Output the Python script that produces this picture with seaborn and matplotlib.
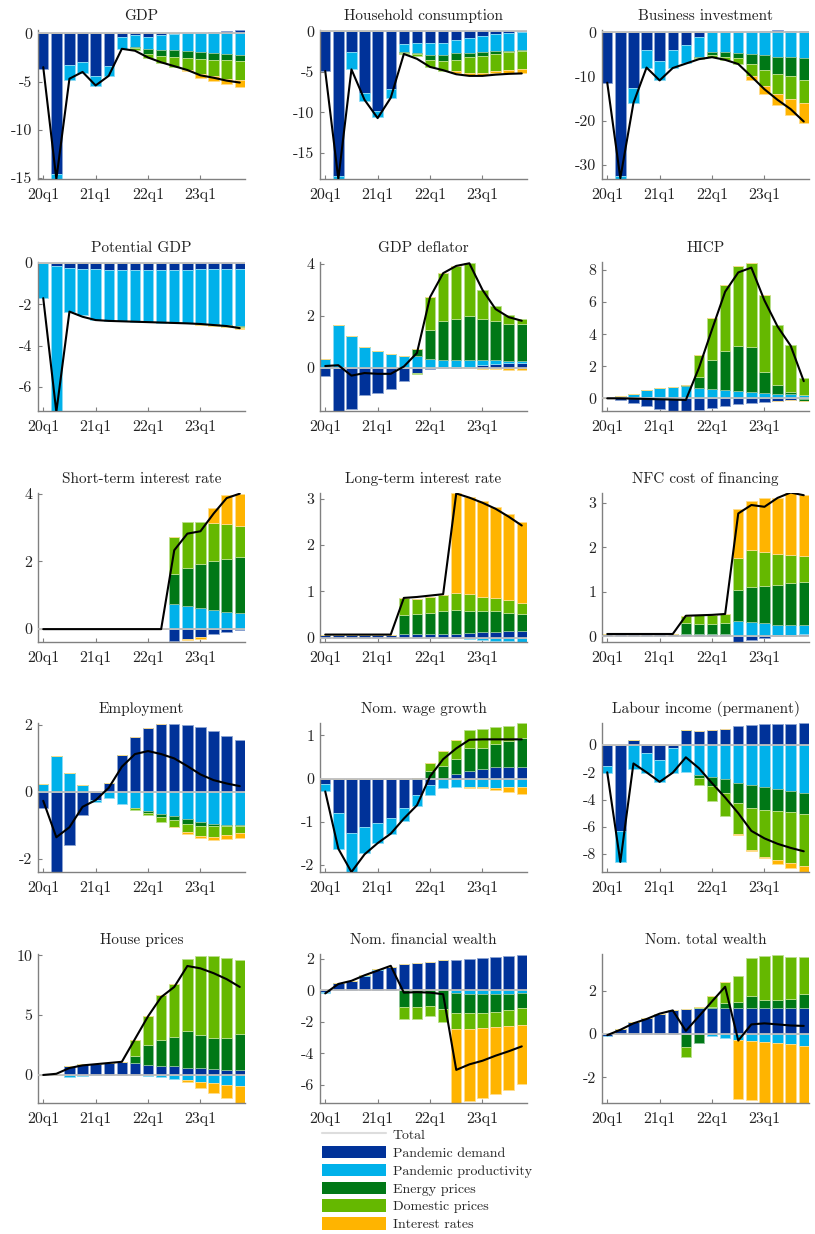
import numpy as np
import seaborn as sns
import matplotlib
matplotlib.use("Agg")
import matplotlib.pyplot as plt
from matplotlib.patches import Patch
from matplotlib.lines import Line2D
from matplotlib.colors import to_rgb

# quarters 20q1 .. 23q4
quarters = np.arange(16)
tick_pos = [0, 4, 8, 12]
tick_labels = ['20q1', '21q1', '22q1', '23q1']

components = ['Pandemic demand', 'Pandemic productivity', 'Energy prices',
              'Domestic prices', 'Interest rates']
colors = ['#003299', '#00b1ea', '#007816', '#65b800', '#ffb400']

z6 = [0] * 6
z7 = [0] * 7
z10 = [0] * 10

# GDP
gdp_dem = [-3.66, -14.6, -3.3, -2.96, -4.46, -3.4, -0.4, -0.2, -0.35, -0.14, -0.05, 0.0, 0.05, 0.15, 0.25, 0.35]
gdp_prod = [0, -0.5, -1.5, -1.14, -1.04, -1.06, -1.17, -1.26, -1.32, -1.6, -1.69, -1.8, -1.9, -2.0, -2.16, -2.26]
gdp_ene = z7 + [-0.1, -0.49, -0.63, -0.76, -0.8, -0.8, -0.8, -0.64, -0.64]
gdp_dom = z7 + [-0.2, -0.44, -0.73, -1.0, -1.23, -1.55, -1.66, -1.9, -1.9]
gdp_int = z10 + [0, -0.07, -0.35, -0.49, -0.5, -0.77]
gdp_tot = [-3.5, -15.1, -4.7, -4.0, -5.4, -4.4, -1.6, -1.8, -2.5, -3.0, -3.4, -3.8, -4.35, -4.6, -4.9, -5.1]

# Household consumption
hh_dem = [-4.9, -17.8, -2.5, -7.55, -9.8, -7.1, -1.6, -1.5, -1.5, -1.4, -1.1, -0.8, -0.57, -0.3, -0.16, -0.08]
hh_prod = [0, -0.4, -2.1, -1.05, -0.8, -1.1, -1.0, -1.2, -1.4, -1.5, -1.6, -1.85, -1.93, -2.1, -2.29, -2.25]
hh_ene = [0, 0, 0, 0, 0, 0, -0.1, -0.15, -0.65, -0.8, -0.8, -0.55, -0.6, -0.4, -0.1, -0.07]
hh_dom = [0, 0, 0, 0, 0, 0, -0.1, -0.2, -0.85, -1.2, -1.4, -1.9, -2.0, -2.05, -2.25, -2.3]
hh_int = z10 + [-0.2, -0.3, -0.3, -0.35, -0.3, -0.5]
hh_tot = [-4.9, -18.2, -4.7, -8.45, -10.7, -8.2, -2.8, -3.4, -4.4, -4.8, -5.3, -5.5, -5.5, -5.35, -5.25, -5.2]

# Business investment
bi_dem = [-11.4, -32.5, -12.7, -4.0, -6.6, -4.0, -2.9, -1.0, 0, 0, 0, 0.1, 0.3, 0.4, 0.35, 0.25]
bi_prod = [0, -0.7, -3.4, -4.0, -4.3, -4.1, -4.1, -4.65, -4.5, -4.5, -4.6, -4.9, -5.1, -5.5, -5.7, -5.9]
bi_ene = z7 + [-0.2, -0.6, -1.0, -1.3, -2.3, -3.4, -3.9, -4.3, -4.9]
bi_dom = z7 + [-0.25, -0.4, -0.75, -1.3, -2.7, -3.6, -4.5, -5.1, -5.3]
bi_int = [0] * 11 + [-0.9, -1.8, -2.5, -3.6, -4.5]
bi_tot = [-11.4, -33.0, -16.0, -8.0, -10.9, -8.1, -7.1, -6.1, -5.65, -6.25, -7.2, -10.0, -12.9, -15.3, -17.4, -20.2]

# Potential GDP
pot_dem = [0, -0.16, -0.22, -0.27, -0.3, -0.33, -0.35, -0.35, -0.35, -0.34, -0.33, -0.32, -0.31, -0.3, -0.3, -0.29]
pot_prod = [-1.7, -7.0, -2.13, -2.23, -2.46, -2.47, -2.47, -2.49, -2.51, -2.54, -2.57, -2.6, -2.62, -2.66, -2.7, -2.76]
pot_ene = [0] * 12 + [-0.02, -0.03, -0.04, -0.05]
pot_dom = [0] * 12 + [-0.02, -0.03, -0.04, -0.05]
pot_int = [0] * 12 + [-0.01, -0.02, -0.03, -0.05]
pot_tot = [-1.7, -7.2, -2.35, -2.6, -2.76, -2.8, -2.82, -2.84, -2.86, -2.88, -2.9, -2.92, -2.95, -3.0, -3.05, -3.15]

# GDP deflator
def_dem = [-0.32, -1.75, -1.57, -1.06, -0.96, -0.83, -0.49, -0.19, -0.05, 0.02, 0.03, 0.05, 0.09, 0.13, 0.17, 0.19]
def_prod = [0.33, 1.65, 1.21, 0.8, 0.64, 0.54, 0.47, 0.45, 0.35, 0.3, 0.29, 0.25, 0.2, 0.16, 0.11, 0.06]
def_ene = z7 + [0.28, 1.12, 1.47, 1.56, 1.68, 1.59, 1.5, 1.41, 1.44]
def_dom = z7 + [-0.06, 1.25, 1.85, 2.04, 2.07, 1.12, 0.6, 0.35, 0.19]
def_int = [0] * 11 + [-0.02, -0.04, -0.06, -0.08, -0.1]
def_tot = [0.07, 0.1, -0.3, -0.2, -0.23, -0.23, 0.05, 0.57, 2.72, 3.64, 3.92, 4.02, 3.0, 2.26, 1.95, 1.81]

# HICP
hicp_dem = [0, -0.12, -0.31, -0.48, -0.68, -0.8, -0.8, -0.72, -0.62, -0.48, -0.37, -0.31, -0.23, -0.14, -0.08, -0.02]
hicp_prod = [0.03, 0.14, 0.25, 0.5, 0.62, 0.68, 0.74, 0.62, 0.56, 0.52, 0.45, 0.41, 0.35, 0.29, 0.25, 0.22]
hicp_ene = [0, 0, 0, 0, 0, 0, 0.06, 0.7, 1.86, 2.46, 2.84, 2.77, 1.28, 0.54, 0.14, -0.12]
hicp_dom = [0, 0, 0, 0, 0, 0, -0.05, 1.4, 2.56, 4.09, 4.95, 5.27, 4.82, 3.72, 2.96, 1.02]
hicp_int = [0] * 13 + [-0.02, -0.03, -0.05]
hicp_tot = [0, 0, -0.02, -0.04, -0.06, -0.08, -0.1, 1.9, 4.3, 6.65, 7.85, 8.15, 6.1, 4.48, 3.28, 1.07]

# Short-term interest rate
st_dem = z10 + [-0.36, -0.3, -0.22, -0.15, -0.09, -0.02]
st_prod = z10 + [0.73, 0.68, 0.63, 0.57, 0.52, 0.47]
st_ene = z10 + [0.89, 1.12, 1.29, 1.44, 1.55, 1.66]
st_dom = z10 + [1.09, 1.35, 1.24, 1.13, 1.03, 0.93]
st_int = z10 + [0, -0.02, -0.07, 0.44, 0.87, 0.94]
st_tot = z10 + [2.33, 2.82, 2.89, 3.41, 3.87, 4.0]

# Long-term interest rate
lt_dem = [0.06] * 6 + [0.09, 0.08, 0.08, 0.08, 0.09, 0.11, 0.12, 0.13, 0.14, 0.15]
lt_prod = [0] * 11 + [-0.03, -0.04, -0.06, -0.07, -0.09]
lt_ene = z6 + [0.41, 0.43, 0.46, 0.49, 0.5, 0.47, 0.46, 0.44, 0.4, 0.36]
lt_dom = z6 + [0.36, 0.33, 0.35, 0.36, 0.37, 0.36, 0.31, 0.29, 0.27, 0.24]
lt_int = z10 + [2.15, 2.1, 2.05, 1.96, 1.85, 1.75]
lt_tot = [0.07] * 6 + [0.86, 0.88, 0.91, 0.94, 3.11, 3.02, 2.91, 2.78, 2.61, 2.42]

# NFC cost of financing
nfc_dem = [0.04] * 6 + [0.04, 0.04, 0.05, 0.05, -0.13, -0.08, -0.04, 0.02, 0.03, 0.05]
nfc_prod = z10 + [0.34, 0.31, 0.29, 0.24, 0.23, 0.2]
nfc_ene = z6 + [0.25, 0.23, 0.22, 0.25, 0.7, 0.8, 0.84, 0.9, 0.93, 0.97]
nfc_dom = z6 + [0.17, 0.2, 0.21, 0.2, 0.71, 0.83, 0.77, 0.69, 0.63, 0.58]
nfc_int = z10 + [1.12, 1.1, 1.2, 1.25, 1.39, 1.37]
nfc_tot = [0.05] * 6 + [0.46, 0.47, 0.48, 0.5, 2.76, 2.95, 2.91, 3.11, 3.23, 3.17]

# Employment
emp_dem = [-0.48, -2.45, -1.6, -0.7, -0.25, 0.27, 1.09, 1.63, 1.92, 2.03, 2.04, 2.0, 1.93, 1.82, 1.68, 1.55]
emp_prod = [0.22, 1.06, 0.57, 0.19, -0.05, -0.18, -0.35, -0.47, -0.58, -0.67, -0.72, -0.82, -0.9, -0.95, -0.98, -1.0]
emp_ene = z7 + [-0.02, -0.06, -0.09, -0.12, -0.15, -0.13, -0.08, -0.04, -0.01]
emp_dom = z7 + [-0.04, -0.05, -0.15, -0.2, -0.24, -0.3, -0.32, -0.27, -0.23]
emp_int = z10 + [-0.02, -0.04, -0.06, -0.09, -0.12, -0.14]
emp_tot = [-0.27, -1.36, -1.06, -0.45, -0.25, 0.12, 0.75, 1.13, 1.22, 1.13, 1.0, 0.77, 0.52, 0.35, 0.25, 0.17]

# Nominal wage growth
wage_dem = [-0.13, -0.8, -1.26, -1.12, -1.03, -0.91, -0.68, -0.39, -0.16, 0.0, 0.1, 0.18, 0.23, 0.26, 0.26, 0.26]
wage_prod = [-0.17, -0.83, -0.91, -0.62, -0.47, -0.38, -0.3, -0.25, -0.23, -0.21, -0.19, -0.19, -0.19, -0.21, -0.19, -0.19]
wage_ene = z7 + [0.02, 0.18, 0.29, 0.35, 0.52, 0.48, 0.54, 0.62, 0.69]
wage_dom = z7 + [0, 0.18, 0.35, 0.44, 0.42, 0.45, 0.39, 0.35, 0.33]
wage_int = [0] * 11 + [-0.02, -0.03, -0.05, -0.12, -0.17]
wage_tot = [-0.3, -1.63, -2.17, -1.76, -1.5, -1.28, -0.93, -0.62, 0.05, 0.45, 0.7, 0.9, 0.91, 0.91, 0.91, 0.91]

# Labour income (permanent)
lab_dem = [-1.54, -6.3, 0.4, -0.56, -1.1, -0.25, 1.08, 1.03, 1.07, 1.2, 1.38, 1.5, 1.55, 1.58, 1.58, 1.6]
lab_prod = [-0.49, -2.28, -1.79, -1.47, -1.6, -1.78, -2.0, -2.2, -2.33, -2.5, -2.82, -2.94, -3.11, -3.26, -3.38, -3.5]
lab_ene = z7 + [-0.2, -0.7, -1.05, -1.4, -1.69, -1.67, -1.57, -1.52, -1.57]
lab_dom = z7 + [-0.54, -1.08, -1.67, -2.32, -3.04, -3.42, -3.63, -3.75, -3.83]
lab_int = z10 + [-0.08, -0.12, -0.12, -0.25, -0.35, -0.5]
lab_tot = [-2.0, -8.58, -1.35, -2.0, -2.7, -2.03, -0.9, -1.7, -2.8, -3.85, -5.0, -6.3, -6.85, -7.25, -7.55, -7.8]

# House prices
hp_dem = [0, 0.02, 0.75, 0.9, 0.95, 1.0, 1.1, 0.97, 0.85, 0.78, 0.72, 0.6, 0.55, 0.5, 0.45, 0.42]
hp_prod = [0, 0, -0.15, -0.08, -0.02, 0, 0, 0, -0.05, -0.15, -0.3, -0.4, -0.55, -0.65, -0.8, -0.95]
hp_ene = z7 + [0.63, 1.68, 2.16, 2.48, 3.1, 2.75, 2.55, 2.65, 3.03]
hp_dom = z7 + [1.35, 2.42, 3.76, 4.4, 6.0, 6.6, 6.9, 6.65, 6.15]
hp_int = [0] * 11 + [-0.22, -0.55, -0.85, -1.1, -1.4]
hp_tot = [0, 0.1, 0.58, 0.8, 0.9, 1.0, 1.1, 3.0, 4.9, 6.5, 7.35, 9.1, 8.9, 8.5, 8.0, 7.35]

# Nominal financial wealth
fw_dem = [-0.1, 0.45, 0.6, 0.9, 1.27, 1.5, 1.65, 1.7, 1.78, 1.9, 1.95, 2.0, 2.05, 2.1, 2.2, 2.25]
fw_prod = [-0.1, 0, 0, 0.05, 0.05, 0, 0, 0, 0, 0, -0.2, -0.22, -0.22, -0.22, -0.22, -0.2]
fw_ene = z6 + [-1.05, -1.05, -1.0, -1.2, -1.25, -1.23, -1.2, -1.13, -1.03, -0.95]
fw_dom = z6 + [-0.75, -0.8, -0.65, -0.8, -1.0, -1.0, -1.0, -1.0, -1.0, -1.05]
fw_int = z10 + [-4.8, -4.55, -4.43, -4.25, -4.05, -3.75]
fw_tot = [-0.2, 0.4, 0.6, 0.95, 1.25, 1.55, -0.15, -0.12, -0.15, -0.25, -5.05, -4.7, -4.47, -4.15, -3.87, -3.56]

# Nominal total wealth
tw_dem = [-0.08, 0.25, 0.55, 0.75, 0.92, 1.12, 1.18, 1.2, 1.22, 1.22, 1.22, 1.22, 1.22, 1.22, 1.22, 1.22]
tw_prod = [-0.03, 0, 0, 0, 0, 0, 0, 0, -0.1, -0.18, -0.28, -0.3, -0.35, -0.4, -0.45, -0.55]
tw_ene = z6 + [-0.6, -0.4, 0.03, 0.23, 0.28, 0.56, 0.38, 0.36, 0.43, 0.63]
tw_dom = z6 + [-0.45, 0.05, 0.5, 0.95, 1.2, 1.77, 2.05, 2.1, 1.95, 1.72]
tw_int = z10 + [-2.72, -2.75, -2.85, -2.85, -2.8, -2.7]
tw_tot = [-0.05, 0.2, 0.5, 0.7, 0.95, 1.1, 0.15, 0.83, 1.52, 2.2, -0.3, 0.45, 0.5, 0.45, 0.4, 0.38]

panels = [
    ('GDP', [gdp_dem, gdp_prod, gdp_ene, gdp_dom, gdp_int], gdp_tot, (-15.1, 0.35), [-15, -10, -5, 0]),
    ('Household consumption', [hh_dem, hh_prod, hh_ene, hh_dom, hh_int], hh_tot, (-18.2, 0.15), [-15, -10, -5, 0]),
    ('Business investment', [bi_dem, bi_prod, bi_ene, bi_dom, bi_int], bi_tot, (-33.2, 0.5), [-30, -20, -10, 0]),
    ('Potential GDP', [pot_dem, pot_prod, pot_ene, pot_dom, pot_int], pot_tot, (-7.16, 0.05), [-6, -4, -2, 0]),
    ('GDP deflator', [def_dem, def_prod, def_ene, def_dom, def_int], def_tot, (-1.66, 4.07), [0, 2, 4]),
    ('HICP', [hicp_dem, hicp_prod, hicp_ene, hicp_dom, hicp_int], hicp_tot, (-0.79, 8.5), [0, 2, 4, 6, 8]),
    ('Short-term interest rate', [st_dem, st_prod, st_ene, st_dom, st_int], st_tot, (-0.38, 4.02), [0, 2, 4]),
    ('Long-term interest rate', [lt_dem, lt_prod, lt_ene, lt_dom, lt_int], lt_tot, (-0.09, 3.12), [0, 1, 2, 3]),
    ('NFC cost of financing', [nfc_dem, nfc_prod, nfc_ene, nfc_dom, nfc_int], nfc_tot, (-0.13, 3.22), [0, 1, 2, 3]),
    ('Employment', [emp_dem, emp_prod, emp_ene, emp_dom, emp_int], emp_tot, (-2.4, 2.06), [-2, 0, 2]),
    ('Nom. wage growth', [wage_dem, wage_prod, wage_ene, wage_dom, wage_int], wage_tot, (-2.17, 1.29), [-2, -1, 0, 1]),
    ('Labour income (permanent)', [lab_dem, lab_prod, lab_ene, lab_dom, lab_int], lab_tot, (-9.32, 1.62), [-8, -6, -4, -2, 0]),
    ('House prices', [hp_dem, hp_prod, hp_ene, hp_dom, hp_int], hp_tot, (-2.34, 10.1), [0, 5, 10]),
    ('Nom. financial wealth', [fw_dem, fw_prod, fw_ene, fw_dom, fw_int], fw_tot, (-7.15, 2.3), [-6, -4, -2, 0, 2]),
    ('Nom. total wealth', [tw_dem, tw_prod, tw_ene, tw_dom, tw_int], tw_tot, (-3.2, 3.72), [-2, 0, 2]),
]

sns.set_theme(style='ticks')
plt.rcParams['font.family'] = ['cmr10', 'DejaVu Serif']
plt.rcParams['axes.unicode_minus'] = False
plt.rcParams['axes.formatter.use_mathtext'] = True


def lighter(c, f=0.55):
    r, g, b = to_rgb(c)
    return (r + (1 - r) * f, g + (1 - g) * f, b + (1 - b) * f)


W, H = 815, 1234
fig = plt.figure(figsize=(W / 100, H / 100), dpi=100)

col_left = [38, 320, 602]
row_top = [30, 262, 493, 723, 954]
ax_w, ax_h = 207, 149
grey = '#808080'

for k, (title, comps, total, ylim, yticks) in enumerate(panels):
    r, c = divmod(k, 3)
    ax = fig.add_axes([col_left[c] / W, 1 - (row_top[r] + ax_h) / H, ax_w / W, ax_h / H])
    pos = np.zeros(16)
    neg = np.zeros(16)
    for vals, col in zip(comps, colors):
        v = np.array(vals, dtype=float)
        base = np.where(v >= 0, pos, neg)
        ax.bar(quarters, v, bottom=base, width=0.8, color=col,
               edgecolor=lighter(col), linewidth=0.6, zorder=2)
        pos = pos + np.where(v > 0, v, 0)
        neg = neg + np.where(v < 0, v, 0)
    ax.axhline(0, color='#bdbdbd', lw=1.3, zorder=3)
    sns.lineplot(x=quarters, y=total, color='black', lw=1.5, ax=ax, zorder=4)

    ax.set_xlim(-0.4, 15.4)
    ax.set_ylim(*ylim)
    ax.set_xticks(tick_pos)
    ax.set_xticklabels(tick_labels)
    ax.set_yticks(yticks)
    ax.set_yticklabels([str(t) for t in yticks])
    ax.set_title(title, fontsize=11, pad=7.5, color='#222222')
    sns.despine(ax=ax)
    for s in ['left', 'bottom']:
        ax.spines[s].set_color(grey)
        ax.spines[s].set_linewidth(1.0)
    ax.tick_params(direction='in', length=3, width=0.8, color=grey,
                   labelsize=11.5, labelcolor='#222222')
    ax.tick_params(axis='y', pad=4)
    ax.tick_params(axis='x', pad=6.5)

handles = [Line2D([0], [0], color='#dddddd', lw=1.5)]
handles += [Patch(facecolor=col, edgecolor='none') for col in colors]
labels = ['Total'] + components
fig.legend(handles, labels, loc='upper left',
           bbox_to_anchor=(322 / W, 1 - 1128 / H), frameon=False,
           fontsize=10, handlelength=4.6, handleheight=1.0,
           labelspacing=0.28, handletextpad=0.5, borderpad=0,
           borderaxespad=0)

fig.savefig('out.png', dpi=100)
